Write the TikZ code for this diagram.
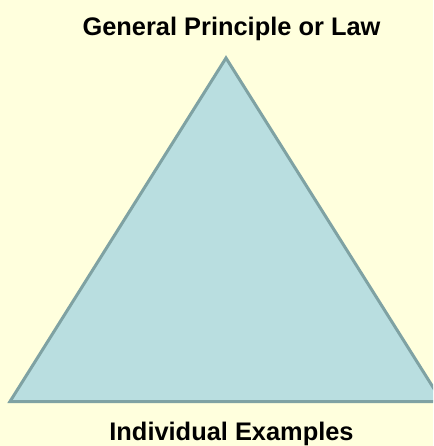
\documentclass[tikz,border=0pt]{standalone}
\usepackage{fontspec}
\setmainfont{Liberation Sans}
\definecolor{bgc}{HTML}{FFFFDD}
\definecolor{trifill}{HTML}{B9DEE0}
\definecolor{tristroke}{HTML}{7FA2A3}
\begin{document}
\begin{tikzpicture}[x=1pt,y=-1pt,
  lbl/.style={font=\fontsize{25.4}{28}\selectfont\bfseries, text=black, inner sep=0pt}]
\fill[bgc] (0,0) rectangle (433,446);
\useasboundingbox (0,0) rectangle (433,446);
\begin{scope}
\clip (0,0) rectangle (433,446);
\coordinate (apex) at (226,58);
\coordinate (bl) at (10,401.5);
\coordinate (br) at (442,401.5);
\draw[fill=trifill, draw=tristroke, line width=3pt, line join=miter] (apex) -- (br) -- (bl) -- cycle;
\end{scope}
\node[lbl, anchor=base] (top) at (231.5,35.5) {General Principle or Law};
\node[lbl, anchor=base] (bot) at (231.5,440) {Individual Examples};
\end{tikzpicture}
\end{document}
